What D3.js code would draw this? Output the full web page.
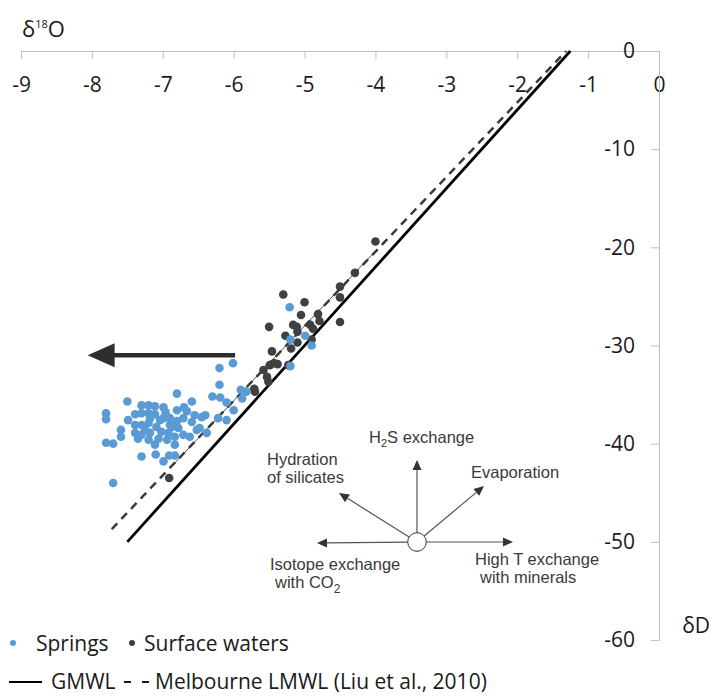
<!DOCTYPE html>
<html>
<head>
<meta charset="utf-8">
<script src="https://cdn.jsdelivr.net/npm/d3@7"></script>
<style>
  html, body { margin: 0; padding: 0; background: #fff; }
  svg { display: block; }
</style>
</head>
<body>
<div id="chart"></div>
<script>
// --------------- Data ---------------
const springsO18 = [
  -6.01, -6.20, -6.20, -6.30, -6.19, -6.10, -5.90, -5.82, -5.88, -6.00,
  -6.40, -6.22, -6.10, -6.52, -6.38, -7.70, -5.21, -5.20, -4.99, -4.90,
  -5.20, -6.80, -7.50, -6.59, -7.80, -7.80, -7.30, -7.20, -7.11, -6.99,
  -6.80, -6.70, -6.66, -7.39, -7.30, -7.20, -7.11, -7.49, -6.99, -6.90,
  -6.80, -6.71, -6.59, -6.55, -6.45, -7.39, -7.30, -7.20, -7.09, -6.87,
  -6.78, -7.59, -7.59, -7.39, -7.30, -7.18, -7.02, -6.92, -6.71, -6.62,
  -6.48, -7.80, -7.70, -7.35, -7.20, -7.06, -6.94, -6.83, -7.11, -6.83,
  -7.30, -7.10, -6.91, -6.83, -6.99, -7.04, -7.25, -6.90, -6.96, -7.18
];
const springsD2H = [
  -31.8, -32.3, -34.0, -35.2, -35.3, -35.8, -34.5, -34.7, -35.4, -36.6,
  -37.1, -37.4, -37.6, -38.6, -38.9, -44.0, -26.1, -29.4, -29.0, -30.0,
  -32.1, -34.9, -35.7, -35.7, -36.9, -37.5, -36.1, -36.1, -36.2, -36.3,
  -36.6, -36.3, -36.7, -37.0, -36.9, -36.9, -37.0, -37.6, -37.4, -37.4,
  -37.7, -37.4, -37.8, -37.1, -37.3, -38.1, -38.1, -37.9, -38.3, -38.3,
  -38.4, -38.6, -39.3, -38.9, -39.1, -38.9, -38.8, -38.9, -39.1, -39.3,
  -38.4, -39.9, -40.0, -39.5, -39.6, -39.5, -39.6, -39.3, -40.1, -40.1,
  -41.3, -41.1, -41.2, -41.2, -41.8, -37.6, -38.6, -38.1, -36.8, -37.4
];
const surfaceO18 = [
  -4.00, -4.29, -4.50, -4.50, -4.50, -5.00, -5.05, -4.81, -4.79, -4.92,
  -4.88, -5.11, -5.16, -4.90, -5.30, -5.50, -5.10, -5.27, -5.10, -5.19,
  -5.46, -5.23, -5.43, -5.38, -5.58, -5.49, -5.53, -5.51, -5.71, -5.70,
  -6.91
];
const surfaceD2H = [
  -19.4, -22.6, -24.0, -25.1, -27.6, -25.6, -26.9, -26.8, -27.5, -27.9,
  -28.3, -28.1, -27.9, -29.4, -24.8, -28.1, -28.6, -29.0, -29.7, -30.3,
  -30.6, -32.0, -31.8, -31.9, -32.5, -32.0, -33.2, -33.7, -34.4, -34.7,
  -43.5
];

// meteoric water lines (end points)
const gmwlO18 = [-7.5, -1.25];
const gmwlD2H = [-50, 0];
const lmwlO18 = [-7.72, -1.31];
const lmwlD2H = [-48.7, 0];
const trendO18 = [-6.9, -3.99];
const trendD2H = [-42.5, -20.3];

// shift arrow
const shiftO18 = [-5.98, -8.06];
const shiftD2H = [-31, -31];

const xTicks = [-9, -8, -7, -6, -5, -4, -3, -2, -1, 0];
const yTicks = [0, -10, -20, -30, -40, -50, -60];

// --------------- Constants ---------------
const WIDTH = 711;
const HEIGHT = 696;
const FONT = "'Open Sans', sans-serif";
const SMALL_FONT = "'Liberation Sans', Arial, sans-serif";
const BLUE = "#5b9bd5";
const DARK = "#404040";
const AXIS_GREY = "#bfbfbf";

const svg = d3
  .select("#chart")
  .append("svg")
  .attr("width", WIDTH)
  .attr("height", HEIGHT);

const x = d3.scaleLinear().domain([-9, 0]).range([21, 659]);
const y = d3.scaleLinear().domain([0, -60]).range([51, 640]);

// --------------- Axes ---------------
const xAxis = svg
  .append("g")
  .attr("transform", "translate(0,51)")
  .call(
    d3.axisBottom(x).tickValues(xTicks).tickSize(8).tickSizeOuter(0)
      .tickPadding(18).tickFormat((d) => String(d))
  );

const yAxis = svg
  .append("g")
  .attr("transform", "translate(659,0)")
  .call(
    d3.axisLeft(y).tickValues(yTicks).tickSize(8).tickSizeOuter(0)
      .tickPadding(16).tickFormat((d) => String(d))
  );

[xAxis, yAxis].forEach((g) => {
  g.select(".domain").attr("stroke", AXIS_GREY);
  g.selectAll(".tick line").attr("stroke", AXIS_GREY);
  g.selectAll(".tick text")
    .attr("fill", "#1a1a1a")
    .style("font-family", FONT)
    .style("font-size", "21px");
});

// axis titles
const o18Label = svg
  .append("text")
  .attr("x", 22)
  .attr("y", 37)
  .attr("fill", "#1a1a1a")
  .style("font-family", FONT)
  .style("font-size", "22px");
o18Label.append("tspan").text("δ");
o18Label.append("tspan").attr("dy", -9).style("font-size", "11px").text("18");
o18Label.append("tspan").attr("dy", 9).text("O");

svg
  .append("text")
  .attr("x", 710)
  .attr("y", 633)
  .attr("text-anchor", "end")
  .attr("fill", "#1a1a1a")
  .style("font-family", FONT)
  .style("font-size", "21px")
  .text("δD");

// --------------- Water lines ---------------
const lineFor = (xs, ys) =>
  d3.line()(xs.map((v, i) => [x(v), y(ys[i])]));

svg
  .append("path")
  .attr("d", lineFor(trendO18, trendD2H))
  .attr("stroke", "#555")
  .attr("stroke-width", 1)
  .attr("fill", "none");

svg
  .append("path")
  .attr("d", lineFor(lmwlO18, lmwlD2H))
  .attr("stroke", "#3a3a3a")
  .attr("stroke-width", 2.5)
  .attr("stroke-dasharray", "8,6")
  .attr("fill", "none");

svg
  .append("path")
  .attr("d", lineFor(gmwlO18, gmwlD2H))
  .attr("stroke", "#000")
  .attr("stroke-width", 2.8)
  .attr("fill", "none");

// --------------- Points ---------------
svg
  .append("g")
  .selectAll("circle")
  .data(surfaceO18)
  .join("circle")
  .attr("cx", (d) => x(d))
  .attr("cy", (d, i) => y(surfaceD2H[i]))
  .attr("r", 4.3)
  .attr("fill", DARK);

svg
  .append("g")
  .selectAll("circle")
  .data(springsO18)
  .join("circle")
  .attr("cx", (d) => x(d))
  .attr("cy", (d, i) => y(springsD2H[i]))
  .attr("r", 4.3)
  .attr("fill", BLUE);

// --------------- Shift arrow ---------------
const ax0 = x(shiftO18[0]);
const ax1 = x(shiftO18[1]);
const ay = y(shiftD2H[0]);
svg
  .append("line")
  .attr("x1", ax0)
  .attr("x2", ax1 + 20)
  .attr("y1", ay)
  .attr("y2", ay)
  .attr("stroke", "#2e2e2e")
  .attr("stroke-width", 4.5);
svg
  .append("path")
  .attr("d", `M${ax1},${ay} L${ax1 + 27},${ay - 12} L${ax1 + 27},${ay + 12} Z`)
  .attr("fill", "#2e2e2e");

// --------------- Process diagram ---------------
const CX = 417;
const CY = 542;
const R = 9.3;
const processes = [
  { dx: -100, dy: 1 },
  { dx: 96, dy: 0 },
  { dx: 0, dy: -82 },
  { dx: -78, dy: -49 },
  { dx: 67, dy: -56 },
];
const diag = svg.append("g");
processes.forEach((p) => {
  const len = Math.hypot(p.dx, p.dy);
  const ux = p.dx / len;
  const uy = p.dy / len;
  const tx = CX + p.dx;
  const ty = CY + p.dy;
  const bx = tx - ux * 10;
  const by = ty - uy * 10;
  diag
    .append("line")
    .attr("x1", CX + ux * R)
    .attr("y1", CY + uy * R)
    .attr("x2", bx)
    .attr("y2", by)
    .attr("stroke", "#555")
    .attr("stroke-width", 1.2);
  diag
    .append("path")
    .attr(
      "d",
      `M${tx},${ty} L${bx - uy * 4.5},${by + ux * 4.5} L${bx + uy * 4.5},${by - ux * 4.5} Z`
    )
    .attr("fill", "#333");
});
diag
  .append("circle")
  .attr("cx", CX)
  .attr("cy", CY)
  .attr("r", R)
  .attr("fill", "#fff")
  .attr("stroke", "#333")
  .attr("stroke-width", 1);

const diagText = (tx, ty) =>
  diag
    .append("text")
    .attr("x", tx)
    .attr("y", ty)
    .attr("fill", "#3a3a3a")
    .style("font-family", SMALL_FONT)
    .style("font-size", "16.5px");

const h2s = diagText(369, 443);
h2s.append("tspan").text("H");
h2s.append("tspan").attr("dy", 4).style("font-size", "11px").text("2");
h2s.append("tspan").attr("dy", -4).text("S exchange");
diagText(267, 465).text("Hydration");
diagText(267, 483).text("of silicates");
diagText(471, 478).text("Evaporation");
diagText(270, 570).text("Isotope exchange");
const co2 = diagText(275, 588);
co2.append("tspan").text("with CO");
co2.append("tspan").attr("dy", 5).style("font-size", "12px").text("2");
diagText(475, 565).text("High T exchange");
diagText(480, 583).text("with minerals");

// --------------- Legend ---------------
const legendText = (tx, ty, label) =>
  svg
    .append("text")
    .attr("x", tx)
    .attr("y", ty)
    .attr("fill", "#1a1a1a")
    .style("font-family", FONT)
    .style("font-size", "21px")
    .text(label);

svg.append("circle").attr("cx", 13).attr("cy", 643).attr("r", 3).attr("fill", BLUE);
legendText(36, 651, "Springs");
svg.append("circle").attr("cx", 132).attr("cy", 643).attr("r", 3).attr("fill", DARK);
legendText(144, 651, "Surface waters");

svg
  .append("line")
  .attr("x1", 9).attr("x2", 42)
  .attr("y1", 682).attr("y2", 682)
  .attr("stroke", "#000")
  .attr("stroke-width", 2);
legendText(51, 689, "GMWL");
svg
  .append("line")
  .attr("x1", 124).attr("x2", 149)
  .attr("y1", 682).attr("y2", 682)
  .attr("stroke", "#1a1a1a")
  .attr("stroke-width", 2)
  .attr("stroke-dasharray", "7,11");
legendText(155, 689, "Melbourne LMWL (Liu et al., 2010)");
</script>
</body>
</html>
